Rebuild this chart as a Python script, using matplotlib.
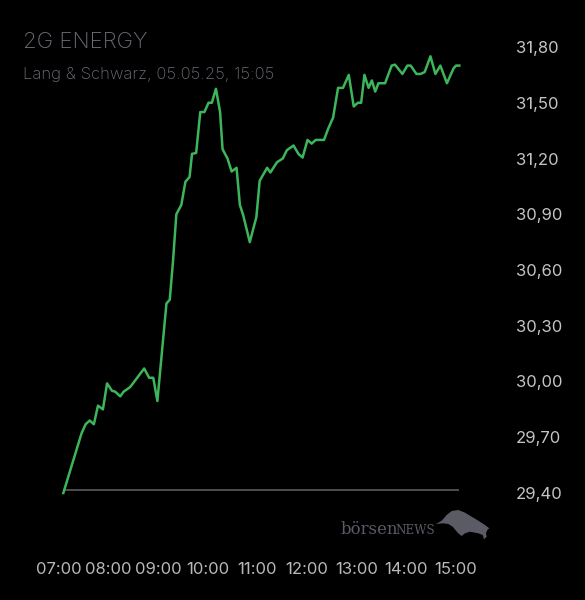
import numpy as np
import pandas as pd
import matplotlib
matplotlib.use("Agg")
import matplotlib.pyplot as plt
from matplotlib.patches import Polygon

# Intraday quotes (Lang & Schwarz, 05.05.25)
times = ["07:05", "07:27", "07:32", "07:37", "07:42", "07:47", "07:53", "07:58",
         "08:04", "08:08", "08:14", "08:18", "08:26", "08:43", "08:49", "08:54",
         "08:59", "09:10", "09:14", "09:18", "09:22", "09:28", "09:33", "09:38",
         "09:41", "09:46", "09:51", "09:56", "10:01", "10:05", "10:10", "10:15",
         "10:18", "10:24", "10:29", "10:35", "10:39", "10:43", "10:51", "10:59",
         "11:03", "11:12", "11:16", "11:24", "11:31", "11:36", "11:44", "11:50",
         "11:55", "12:01", "12:06", "12:11", "12:21", "12:26", "12:32", "12:38",
         "12:44", "12:51", "12:57", "13:02", "13:06", "13:10", "13:15", "13:19",
         "13:23", "13:27", "13:35", "13:43", "13:47", "13:56", "14:02", "14:06",
         "14:13", "14:18", "14:23", "14:30", "14:36", "14:42", "14:50", "14:58",
         "15:01", "15:05"]
prices = [29.40, 29.72, 29.77, 29.79, 29.77, 29.87, 29.85, 29.99,
          29.95, 29.945, 29.92, 29.945, 29.97, 30.07, 30.02, 30.02,
          29.895, 30.42, 30.44, 30.65, 30.90, 30.95, 31.075, 31.10,
          31.225, 31.23, 31.45, 31.45, 31.50, 31.50, 31.575, 31.45,
          31.25, 31.20, 31.13, 31.15, 30.95, 30.895, 30.75, 30.885,
          31.08, 31.15, 31.125, 31.18, 31.20, 31.245, 31.27, 31.225,
          31.205, 31.30, 31.28, 31.30, 31.30, 31.36, 31.42, 31.58,
          31.58, 31.65, 31.48, 31.50, 31.50, 31.65, 31.58, 31.62,
          31.56, 31.605, 31.605, 31.70, 31.705, 31.655, 31.70, 31.70,
          31.655, 31.655, 31.665, 31.75, 31.655, 31.70, 31.605, 31.685,
          31.70, 31.70]
prev_close = 29.415

y_ticks = [29.40, 29.70, 30.00, 30.30, 30.60, 30.90, 31.20, 31.50, 31.80]
x_hours = [7, 8, 9, 10, 11, 12, 13, 14, 15]

title = "2G ENERGY"
subtitle = "Lang & Schwarz, 05.05.25, 15:05"

t = pd.to_datetime(times, format="%H:%M")
hours = t.hour + t.minute / 60.0

BG = "black"
GREEN = "#3db65b"
LOGO = "#5b5b66"
plt.rcParams["font.family"] = ["Inter", "DejaVu Sans"]

fig = plt.figure(figsize=(5.85, 6.0), dpi=100, facecolor=BG)
# axes: 07:00 at x=59px, 49.5 px per hour; 29.40 at y=493px, 31.80 at y=47px
px_per_h = 49.5
left_px, right_px = 59.2, 459.3
ax = fig.add_axes([left_px / 585, 1 - 493 / 600, (right_px - left_px) / 585, 446 / 600])
ax.set_facecolor(BG)
ax.set_xlim(7.0, 7.0 + (right_px - left_px) / px_per_h)
ax.set_ylim(29.40, 31.80)

ax.hlines(prev_close, hours[0], hours[-1] + 0.03, color="#555555", lw=1.3, zorder=1)
ax.plot(hours, prices, color=GREEN, lw=1.8, solid_joinstyle="round", zorder=2, clip_on=False)

for s in ax.spines.values():
    s.set_visible(False)

ax.yaxis.tick_right()
ax.set_yticks(y_ticks)
ax.set_yticklabels([f"{v:.2f}".replace(".", ",") for v in y_ticks])
ax.tick_params(axis="y", length=0, pad=41, labelsize=12, labelcolor="#c4c4c4")
ax.set_xticks(x_hours)
ax.set_xticklabels([f"{h:02d}:00" for h in x_hours])
ax.tick_params(axis="x", length=0, pad=50, labelsize=12, labelcolor="#b8b8b8")

fig.text(23 / 585, 1 - 42 / 600, title, color="#6c6c76", fontsize=16, fontweight="light",
         va="center", ha="left")
fig.text(23 / 585, 1 - 75 / 600, subtitle, color="#6c6c76", fontsize=12, fontweight="light",
         va="center", ha="left")

# boersenNEWS logo
fig.text(341 / 585, 1 - 534.3 / 600, "börsen", color=LOGO, fontsize=11.9,
         family="DejaVu Serif", va="baseline", ha="left")
fig.text(395 / 585, 1 - 534.3 / 600, "NEWS", color=LOGO, fontsize=8.6,
         family="DejaVu Serif", va="baseline", ha="left")
bull = [(436, 524), (441.7, 520.7), (446.7, 515), (451.7, 511), (458.3, 510), (465, 512.7),
        (471.7, 516.7), (478.3, 520.7), (485, 525), (489.3, 528.3), (487.3, 530), (486, 533.3),
        (486.7, 536.7), (484, 539.3), (482.7, 535), (478.3, 533.3), (470, 531.7), (465, 533.3),
        (461.7, 536), (458.3, 533.3), (456, 530.7), (452.7, 526.7), (448.3, 524), (443.3, 523.3)]
fig.patches.append(Polygon([(x / 585, 1 - y / 600) for x, y in bull], closed=True,
                           transform=fig.transFigure, facecolor=LOGO, edgecolor="none"))

fig.savefig("out.png", dpi=100, facecolor=BG)
